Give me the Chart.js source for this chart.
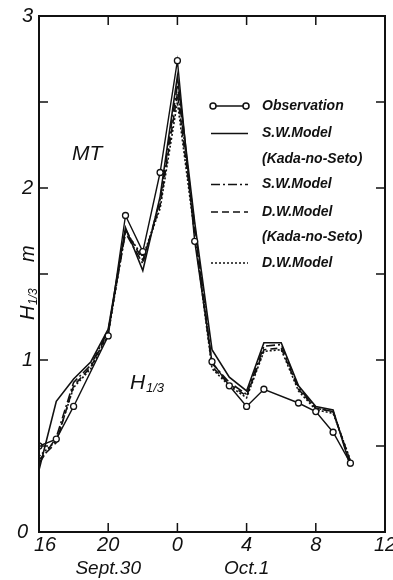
<!DOCTYPE html>
<html>
<head>
<meta charset="utf-8">
<script src="https://cdn.jsdelivr.net/npm/chart.js@4"></script>
<style>
  html, body { margin: 0; padding: 0; background: #fff; }
  #wrap { width: 393px; height: 580px; position: relative; }
</style>
</head>
<body>
<div id="wrap"><canvas id="c"></canvas></div>
<script>
  // hours counted from 16h Sept.30 (24 = 0h Oct.1)
  const obsHours = [16, 17, 18, 20, 21, 22, 23, 24, 25, 26, 27, 28, 29, 31, 32, 33, 34];
  const obsH     = [0.50, 0.54, 0.73, 1.14, 1.84, 1.63, 2.09, 2.74, 1.69, 0.99, 0.85, 0.73, 0.83, 0.75, 0.70, 0.58, 0.40];

  const modelHours = [16, 17, 18, 19, 20, 21, 22, 23, 24, 25, 26, 27, 28, 29, 30, 31, 32, 33, 34];
  const swKada  = [0.36, 0.76, 0.89, 0.99, 1.18, 1.77, 1.52, 1.95, 2.65, 1.80, 1.06, 0.90, 0.82, 1.10, 1.10, 0.85, 0.73, 0.71, 0.38];
  const swModel = [0.40, 0.55, 0.87, 0.97, 1.17, 1.74, 1.56, 1.93, 2.60, 1.78, 0.98, 0.87, 0.80, 1.08, 1.09, 0.84, 0.72, 0.70, 0.40];
  const dwKada  = [0.42, 0.52, 0.85, 0.96, 1.16, 1.76, 1.58, 1.90, 2.55, 1.75, 0.96, 0.86, 0.79, 1.06, 1.07, 0.83, 0.72, 0.70, 0.41];
  const dwModel = [0.44, 0.53, 0.84, 0.95, 1.15, 1.75, 1.60, 1.88, 2.50, 1.73, 0.95, 0.85, 0.78, 1.05, 1.06, 0.82, 0.71, 0.69, 0.42];

  const xTicks = [16, 20, 24, 28, 32, 36];
  const yLabels = [0, 1, 2, 3];
  const dayLabels = [{ at: 20, text: 'Sept.30' }, { at: 28, text: 'Oct.1' }];

  const legendRows = [
    ['Observation'], ['S.W.Model', '(Kada-no-Seto)'], ['S.W.Model'], ['D.W.Model', '(Kada-no-Seto)'], ['D.W.Model']
  ];

  const pts = (xs, ys) => xs.map((x, i) => ({ x: x, y: ys[i] }));
  const ink = '#111';

  // inward ticks, frame, legend and free texts
  const decor = {
    id: 'decor',
    afterDraw(chart) {
      const ctx = chart.ctx;
      const a = chart.chartArea;
      const xs = chart.scales.x, ys = chart.scales.y;
      ctx.save();
      ctx.strokeStyle = ink;
      ctx.lineWidth = 2;
      ctx.strokeRect(a.left, a.top, a.right - a.left, a.bottom - a.top);
      ctx.lineWidth = 1.5;
      ctx.beginPath();
      for (let v = 0.5; v < 3; v += 0.5) {
        const py = ys.getPixelForValue(v);
        ctx.moveTo(a.left, py); ctx.lineTo(a.left + 9, py);
        ctx.moveTo(a.right, py); ctx.lineTo(a.right - 9, py);
      }
      xTicks.slice(1, -1).forEach(v => {
        const px = xs.getPixelForValue(v);
        ctx.moveTo(px, a.bottom); ctx.lineTo(px, a.bottom - 9);
        ctx.moveTo(px, a.top); ctx.lineTo(px, a.top + 9);
      });
      ctx.stroke();

      ctx.fillStyle = ink;
      ctx.font = 'italic 20px "Liberation Sans"';
      ctx.textBaseline = 'middle';
      ctx.textAlign = 'right';
      yLabels.forEach(v => {
        ctx.fillText(String(v), a.left - (v === 0 ? 11 : 6), ys.getPixelForValue(v));
      });
      ctx.textAlign = 'center';
      ctx.textBaseline = 'top';
      xTicks.forEach((v, i) => {
        const px = xs.getPixelForValue(v) + (i === 0 ? 6 : 0);
        ctx.fillText(String(v % 24), px, a.bottom + 3);
      });
      ctx.font = 'italic 19px "Liberation Sans"';
      dayLabels.forEach(d => ctx.fillText(d.text, xs.getPixelForValue(d.at), a.bottom + 27));

      // free texts
      ctx.textAlign = 'left';
      ctx.textBaseline = 'alphabetic';
      ctx.font = 'italic 21px "Liberation Sans"';
      ctx.fillText('MT', 72, 160);
      ctx.fillText('H', 130, 389);
      ctx.font = 'italic 13px "Liberation Sans"';
      ctx.fillText('1/3', 146, 392);

      // rotated axis title, left of the y axis
      ctx.save();
      ctx.translate(34, 320);
      ctx.rotate(-Math.PI / 2);
      ctx.font = 'italic 20px "Liberation Sans"';
      ctx.fillText('H', 0, 0);
      ctx.font = 'italic 12px "Liberation Sans"';
      ctx.fillText('1/3', 15, 3);
      ctx.font = 'italic 20px "Liberation Sans"';
      ctx.fillText('m', 58, 0);
      ctx.restore();

      // legend
      const sets = chart.data.datasets;
      let y = 106;
      ctx.font = 'italic bold 14px "Liberation Sans"';
      ctx.textBaseline = 'middle';
      legendRows.forEach((rows, i) => {
        const ds = sets[i];
        ctx.save();
        ctx.strokeStyle = ink;
        ctx.lineWidth = 1.5;
        ctx.setLineDash(ds.borderDash || []);
        ctx.beginPath();
        ctx.moveTo(211, y); ctx.lineTo(248, y);
        ctx.stroke();
        ctx.setLineDash([]);
        if (i === 0) {
          [213, 246].forEach(cx => {
            ctx.beginPath();
            ctx.arc(cx, y, 3, 0, Math.PI * 2);
            ctx.fillStyle = '#fff';
            ctx.fill();
            ctx.stroke();
          });
        }
        ctx.restore();
        rows.forEach(t => {
          ctx.fillText(t, 262, y);
          y += 25.5;
        });
        if (rows.length === 1) y += 2;
      });
      ctx.restore();
    }
  };

  new Chart(document.getElementById('c'), {
    type: 'line',
    data: {
      datasets: [
        {
          label: 'Observation',
          data: pts(obsHours, obsH),
          borderColor: ink, borderWidth: 1.4,
          pointRadius: 3, pointBackgroundColor: '#fff', pointBorderColor: ink, pointBorderWidth: 1.3
        },
        { label: 'S.W.Model (Kada-no-Seto)', data: pts(modelHours, swKada), borderColor: ink, borderWidth: 1.6, pointRadius: 0 },
        { label: 'S.W.Model', data: pts(modelHours, swModel), borderColor: ink, borderWidth: 1.6, borderDash: [9, 3, 2, 3], pointRadius: 0 },
        { label: 'D.W.Model (Kada-no-Seto)', data: pts(modelHours, dwKada), borderColor: ink, borderWidth: 1.6, borderDash: [7, 4], pointRadius: 0 },
        { label: 'D.W.Model', data: pts(modelHours, dwModel), borderColor: ink, borderWidth: 1.6, borderDash: [2, 2], pointRadius: 0 }
      ]
    },
    options: {
      responsive: true,
      maintainAspectRatio: false,
      animation: false,
      layout: { padding: { top: 16, right: 8, left: 0, bottom: 0 } },
      plugins: { legend: { display: false }, tooltip: { enabled: false } },
      elements: { line: { tension: 0, fill: false } },
      scales: {
        x: {
          type: 'linear', min: 16, max: 36,
          grid: { display: false }, border: { display: false },
          ticks: { display: false },
          afterFit: s => { s.height = 48; }
        },
        y: {
          min: 0, max: 3,
          grid: { display: false }, border: { display: false },
          ticks: { display: false },
          afterFit: s => { s.width = 39; }
        }
      }
    },
    plugins: [decor]
  });
</script>
</body>
</html>
